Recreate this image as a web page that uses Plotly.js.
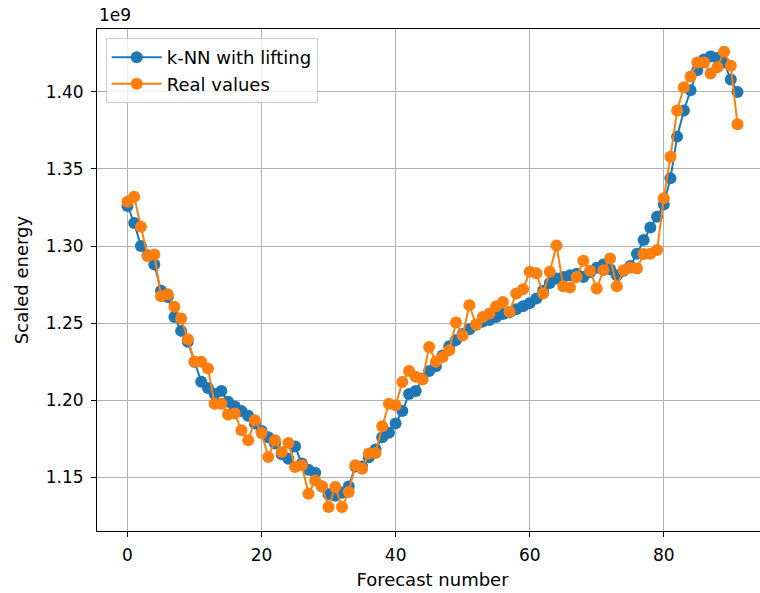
<!DOCTYPE html>
<html>
<head>
<meta charset="utf-8">
<script src="https://cdn.plot.ly/plotly-3.0.1.min.js"></script>
<style>
  html, body { margin: 0; padding: 0; background: #fff; overflow: hidden; width: 760px; height: 593px; }
  #chart { width: 782px; height: 593px; }
</style>
</head>
<body>
<div id="chart"></div>
<script>
// Forecast index
const forecastNumber = Array.from({length: 92}, (_, i) => i);

// Values in units of 1e9
const knnWithLifting = [
  1.326, 1.315, 1.300, 1.294, 1.288, 1.271, 1.267, 1.254, 1.245, 1.238,
  1.225, 1.212, 1.208, 1.204, 1.206, 1.199, 1.196, 1.193, 1.190, 1.185,
  1.180, 1.176, 1.172, 1.165, 1.162, 1.170, 1.159, 1.155, 1.153, 1.144,
  1.139, 1.138, 1.140, 1.144, 1.157, 1.157, 1.163, 1.168, 1.176, 1.179,
  1.185, 1.193, 1.204, 1.206, 1.214, 1.219, 1.222, 1.229, 1.235, 1.239,
  1.243, 1.246, 1.249, 1.251, 1.252, 1.254, 1.256, 1.257, 1.259, 1.261,
  1.263, 1.266, 1.271, 1.276, 1.279, 1.280, 1.281, 1.282, 1.280, 1.283,
  1.286, 1.288, 1.285, 1.281, 1.284, 1.287, 1.295, 1.304, 1.312, 1.319,
  1.327, 1.344, 1.371, 1.388, 1.401, 1.414, 1.421, 1.423, 1.422, 1.419,
  1.408, 1.400
];

const realValues = [
  1.3288, 1.3320, 1.3125, 1.2935, 1.2946, 1.2675, 1.2688, 1.2606, 1.2530, 1.2396,
  1.2249, 1.2249, 1.2206, 1.1978, 1.1978, 1.1907, 1.1914, 1.1805, 1.1740, 1.1870,
  1.1788, 1.1632, 1.1740, 1.1665, 1.1723, 1.1567, 1.1578, 1.1394, 1.1480, 1.1442,
  1.1307, 1.1437, 1.1307, 1.1405, 1.1578, 1.1556, 1.1654, 1.1658, 1.1831, 1.1978,
  1.1968, 1.2119, 1.2190, 1.2152, 1.2134, 1.2346, 1.2249, 1.2281, 1.2325, 1.2505,
  1.2420, 1.2617, 1.2490, 1.2540, 1.2563, 1.2610, 1.2638, 1.2574, 1.2693, 1.2720,
  1.2833, 1.2823, 1.2693, 1.2833, 1.3003, 1.2740, 1.2732, 1.2800, 1.2905, 1.2840,
  1.2725, 1.2844, 1.2920, 1.2740, 1.2844, 1.2860, 1.2855, 1.2948, 1.2950, 1.2974,
  1.3310, 1.3580, 1.3880, 1.4030, 1.4100, 1.4190, 1.4190, 1.4120, 1.4160, 1.4260,
  1.4170, 1.3790
];

const xTicks = [0, 20, 40, 60, 80];
const yTicks = [1.15, 1.20, 1.25, 1.30, 1.35, 1.40];
const yTickLabels = ['1.15', '1.20', '1.25', '1.30', '1.35', '1.40'];
const seriesNames = ['k-NN with lifting', 'Real values'];
const offsetLabel = '1e9';

const font = 'DejaVu Sans, sans-serif';

const traces = [
  {
    x: forecastNumber, y: knnWithLifting, name: seriesNames[0], legendgroup: 'a',
    type: 'scatter', mode: 'lines+markers',
    line: {color: '#1f77b4', width: 2},
    marker: {color: '#1f77b4', size: 12}
  },
  {
    x: forecastNumber, y: realValues, name: seriesNames[1], legendgroup: 'b',
    type: 'scatter', mode: 'lines+markers',
    line: {color: '#ff7f0e', width: 2},
    marker: {color: '#ff7f0e', size: 12}
  }
];

const axisCommon = {
  showline: true, mirror: true, linecolor: '#000', linewidth: 1,
  showgrid: true, gridcolor: '#b0b0b0', gridwidth: 1,
  zeroline: false,
  ticks: 'outside', ticklen: 5, tickwidth: 1, tickcolor: '#000',
  ticklabelstandoff: 4,
  tickfont: {family: font, size: 17, color: '#000'}
};

const layout = {
  width: 782, height: 593,
  margin: {l: 97, r: 14, t: 29, b: 62},
  paper_bgcolor: '#fff', plot_bgcolor: '#fff',
  font: {family: font, size: 17, color: '#000'},
  xaxis: Object.assign({}, axisCommon, {
    range: [-4.55, 95.55],
    tickvals: xTicks,
    title: {text: 'Forecast number', font: {family: font, size: 18, color: '#000'}, standoff: 8}
  }),
  yaxis: Object.assign({}, axisCommon, {
    range: [1.1152, 1.4408],
    tickvals: yTicks, ticktext: yTickLabels,
    title: {text: 'Scaled energy', font: {family: font, size: 18, color: '#000'}, standoff: 12}
  }),
  showlegend: true,
  legend: {
    x: 0.013, y: 0.982, xanchor: 'left', yanchor: 'top',
    bgcolor: 'rgba(255,255,255,0.8)', bordercolor: '#cccccc', borderwidth: 1,
    font: {family: font, size: 18, color: '#000'},
    itemwidth: 50, tracegroupgap: 0
  },
  annotations: [{
    text: offsetLabel, xref: 'paper', yref: 'paper', x: 0, y: 1,
    xanchor: 'left', yanchor: 'bottom', yshift: 2, showarrow: false,
    font: {family: font, size: 17, color: '#000'}
  }]
};

Plotly.newPlot('chart', traces, layout, {displayModeBar: false, staticPlot: true});
</script>
</body>
</html>
